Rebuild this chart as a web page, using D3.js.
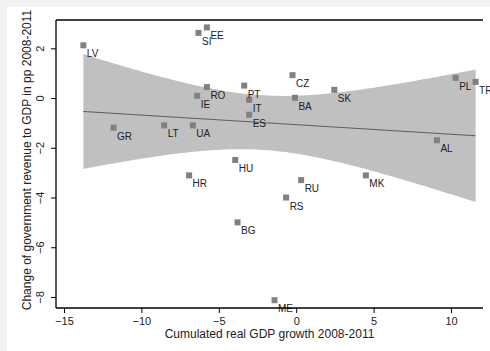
<!DOCTYPE html>
<html>
<head>
<meta charset="utf-8">
<script src="https://cdn.jsdelivr.net/npm/d3@7"></script>
<style>
  html, body { margin: 0; padding: 0; background: #fff; }
  svg { display: block; font-family: "Liberation Sans", Arial, sans-serif; }
</style>
</head>
<body>
<svg id="chart" width="490" height="351"></svg>
<script>
// countries and their values
const countries = ["LV", "GR", "SI", "EE", "RO", "IE", "PT", "IT", "ES", "CZ", "BA", "LT",
  "UA", "HU", "HR", "RU", "RS", "BG", "ME", "SK", "PL", "TR", "AL", "MK"]
const gdpGrowth = [-13.75, -11.8, -6.31, -5.77, -5.77, -6.4, -3.36, -3.04, -3.04, -0.24, -0.08, -8.53,
  -6.68, -3.94, -6.92, 0.32, -0.65, -3.79, -1.4, 2.46, 10.3, 11.59, 9.09, 4.5]
const revenueChange = [2.12, -1.19, 2.62, 2.84, 0.44, 0.09, 0.5, -0.07, -0.67, 0.92, 0.01, -1.1,
  -1.1, -2.49, -3.11, -3.3, -4.0, -5.0, -8.13, 0.33, 0.81, 0.65, -1.7, -3.11]

const xTicks = [-15, -10, -5, 0, 5, 10]
const yTicks = [2, 0, -2, -4, -6, -8]

const svg = d3.select("#chart")

// light grey frame strip on left and top
svg.append("rect").attr("x", 0).attr("y", 0).attr("width", 490).attr("height", 7).attr("fill", "#f2f2f2")
svg.append("rect").attr("x", 0).attr("y", 0).attr("width", 7).attr("height", 351).attr("fill", "#f2f2f2")

const plot = {left: 56, right: 483, top: 20, bottom: 308}

const x = d3.scaleLinear().domain([-15, 10]).range([64, 451])
const y = d3.scaleLinear().domain([2, -8]).range([48.3, 297])

// linear fit with 95% confidence band
const data = countries.map((c, i) => ({c, x: gdpGrowth[i], y: revenueChange[i]}))
const n = data.length
const mx = d3.mean(data, d => d.x)
const my = d3.mean(data, d => d.y)
const sxx = d3.sum(data, d => (d.x - mx) ** 2)
const sxy = d3.sum(data, d => (d.x - mx) * (d.y - my))
const slope = sxy / sxx
const icpt = my - slope * mx
const sse = d3.sum(data, d => (d.y - icpt - slope * d.x) ** 2)
const s = Math.sqrt(sse / (n - 2))
const tcrit = 2.074 // t(0.975, 22)
const [x0, x1] = d3.extent(data, d => d.x)
const grid = d3.range(0, 101).map(k => x0 + (x1 - x0) * k / 100)
const band = grid.map(g => {
  const fit = icpt + slope * g
  const hw = tcrit * s * Math.sqrt(1 / n + (g - mx) ** 2 / sxx)
  return {x: g, lo: fit - hw, hi: fit + hw, fit}
})

svg.append("path")
  .datum(band)
  .attr("fill", "#c0c0c0")
  .attr("d", d3.area().x(d => x(d.x)).y0(d => y(d.lo)).y1(d => y(d.hi)))

svg.append("path")
  .datum(band)
  .attr("fill", "none")
  .attr("stroke", "#5a5a5a")
  .attr("stroke-width", 1)
  .attr("d", d3.line().x(d => x(d.x)).y(d => y(d.fit)))

// markers and labels
const pts = svg.append("g")
pts.selectAll("rect")
  .data(data)
  .enter()
  .append("rect")
  .attr("x", d => x(d.x) - 3)
  .attr("y", d => y(d.y) - 3)
  .attr("width", 6)
  .attr("height", 6)
  .attr("fill", "#808080")

pts.selectAll("text")
  .data(data)
  .enter()
  .append("text")
  .attr("x", d => x(d.x) + 3.5)
  .attr("y", d => y(d.y) + 12)
  .attr("font-size", 10)
  .attr("fill", "#222")
  .text(d => d.c)

// frame lines
const frame = svg.append("g").attr("stroke", "#000").attr("stroke-width", 1.3)
frame.append("line").attr("x1", plot.left).attr("x2", plot.right).attr("y1", plot.top).attr("y2", plot.top)
frame.append("line").attr("x1", plot.left).attr("x2", plot.left).attr("y1", plot.top).attr("y2", plot.bottom)
frame.append("line").attr("x1", plot.left).attr("x2", plot.right).attr("y1", plot.bottom).attr("y2", plot.bottom)

// axes
const xAxis = svg.append("g")
  .attr("transform", `translate(0, ${plot.bottom})`)
  .call(d3.axisBottom(x).tickValues(xTicks).tickSize(5).tickPadding(4).tickFormat(d3.format("d")))
xAxis.select(".domain").remove()
xAxis.selectAll("text").attr("font-size", 11).attr("fill", "#222").attr("font-family", null)

const yAxis = svg.append("g")
  .attr("transform", `translate(${plot.left}, 0)`)
  .call(d3.axisLeft(y).tickValues(yTicks).tickSize(5).tickFormat(d3.format("d")))
yAxis.select(".domain").remove()
yAxis.selectAll("text")
  .attr("font-size", 11)
  .attr("fill", "#222")
  .attr("font-family", null)
  .attr("x", null)
  .attr("dy", null)
  .attr("text-anchor", "middle")
  .attr("transform", "translate(-12, 0) rotate(-90)")

// axis titles
svg.append("text")
  .attr("x", (plot.left + plot.right) / 2)
  .attr("y", 338)
  .attr("text-anchor", "middle")
  .attr("font-size", 12)
  .attr("fill", "#222")
  .text("Cumulated real GDP growth 2008-2011")

svg.append("text")
  .attr("transform", `translate(31, 160) rotate(-90)`)
  .attr("text-anchor", "middle")
  .attr("font-size", 12)
  .attr("fill", "#222")
  .text("Change of government revenue to GDP in pp 2008-2011")
</script>
</body>
</html>
